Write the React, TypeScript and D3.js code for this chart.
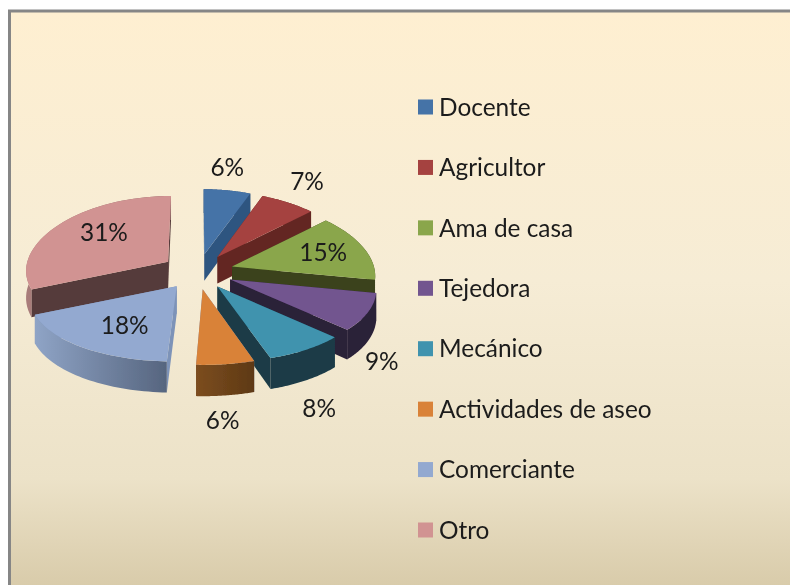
import React from "react";
import * as d3 from "d3";

const categories = ["Docente", "Agricultor", "Ama de casa", "Tejedora", "Mecánico", "Actividades de aseo", "Comerciante", "Otro"];
const shares = [6, 7, 15, 9, 8, 5.7, 17.9, 31.4];

const topColors = ["#4573A7", "#A5423F", "#8AA64C", "#72548F", "#3F93AE", "#D98239", "#93A9D0", "#D19392"];
const sideColors = ["#2F5480", "#632724", "#3A431A", "#2B2038", "#1A3B47", "#7D93B8", "#7D93B8", "#553A3A"];
const wallLeft = ["#2F5480", "#632724", "#3A431A", "#2B2038", "#1A3B47", "#7C4D20", "#8FA4C6", "#A97C7A"];
const wallRight = ["#2F5480", "#632724", "#3A431A", "#2B2038", "#1A3B47", "#5E3913", "#56657F", "#8A6462"];
const labelNudgeX = [0, 19, -40, 14, 13, -3, 42, 45];
const labelNudgeY = [-23, -21, 5, 49, 59, 56, -22, 7];

const cx = 197.7, cy = 271.5, R = 143, explode = 36, tilt = 0.49, depth = 27;
const kx = 0.11, ky = 0.05;

function project(mid: number, angle: number, r: number, z: number, e = explode) {
  const X = e * Math.sin(mid) + r * Math.sin(angle);
  const Y = -(e * Math.cos(mid) + r * Math.cos(angle));
  const sx = 1 / (1 - (kx * Y) / R);
  const sy = 1 / (1 - (ky * Y) / R);
  return [cx + X * sx, cy + tilt * Y * sy + z * depth * sx] as [number, number];
}

const pieGen = d3.pie<number>().sort(null).value((d) => d).startAngle(0).endAngle(2 * Math.PI);
const line = d3.line<[number, number]>().x((d) => d[0]).y((d) => d[1]);
const legendY = d3.scalePoint<string>().domain(categories).range([107, 530]);

export default function App() {
  const arcs = pieGen(shares).map((a, i) => ({ ...a, i, mid: (a.startAngle + a.endAngle) / 2 }));
  const order = [...arcs].sort((p, q) => -Math.cos(p.mid) + Math.cos(q.mid));
  return (
    <svg width={790} height={585} style={{ position: "fixed", left: 0, top: 0, fontFamily: "Lato, sans-serif" }}>
      <defs>
        <linearGradient id="bg" x1="0" y1="0" x2="0" y2="1">
          <stop offset="0" stopColor="#FEEFD1" />
          <stop offset="0.45" stopColor="#F6ECD5" />
          <stop offset="0.78" stopColor="#ECE2C8" />
          <stop offset="1" stopColor="#D4C6A3" />
        </linearGradient>
        <filter id="soft" x="-5%" y="-5%" width="110%" height="110%">
          <feGaussianBlur stdDeviation="0.45" />
        </filter>
        {arcs.map((a) => (
          <linearGradient key={a.i} id={`wall${a.i}`} x1="0" y1="0" x2="1" y2="0">
            <stop offset="0" stopColor={wallLeft[a.i]} />
            <stop offset="1" stopColor={wallRight[a.i]} />
          </linearGradient>
        ))}
      </defs>
      <rect x={9.5} y={11} width={800} height={600} fill="url(#bg)" stroke="#868686" strokeWidth={3} />
      <g filter="url(#soft)">
        {order.map((a) => {
          const steps = d3.range(0, 41).map((k) => a.startAngle + ((a.endAngle - a.startAngle) * k) / 40);
          const topArc = steps.map((t) => project(a.mid, t, R, 0));
          const botArc = steps.map((t) => project(a.mid, t, R, 1));
          const apexT = project(a.mid, 0, 0, 0);
          const apexB = project(a.mid, 0, 0, 1);
          const startWall = [apexT, topArc[0], botArc[0], apexB];
          const endWall = [apexT, topArc[40], botArc[40], apexB];
          const outer = [...topArc, ...[...botArc].reverse()];
          return (
            <g key={a.i}>
              <path d={line(startWall) + "Z"} fill={sideColors[a.i]} />
              <path d={line(endWall) + "Z"} fill={sideColors[a.i]} />
              <path d={line(outer) + "Z"} fill={`url(#wall${a.i})`} />
              <path d={line([apexT, ...topArc]) + "Z"} fill={topColors[a.i]} />
            </g>
          );
        })}
        {arcs.map((a) => {
          const p = project(a.mid, a.mid, R, 0);
          return (
            <text key={a.i} x={p[0] + labelNudgeX[a.i]} y={p[1] + labelNudgeY[a.i]} dy="0.36em" textAnchor="middle" fontSize={24.4} fill="#1a1a1a">
              {Math.round(shares[a.i])}%
            </text>
          );
        })}
        {categories.map((c, i) => (
          <g key={c}>
            <rect x={418} y={legendY(c)! - 7.5} width={15} height={15} fill={topColors[i]} />
            <text x={439} y={legendY(c)!} dy="0.36em" fontSize={24.4} fill="#1a1a1a">
              {c}
            </text>
          </g>
        ))}
      </g>
    </svg>
  );
}
